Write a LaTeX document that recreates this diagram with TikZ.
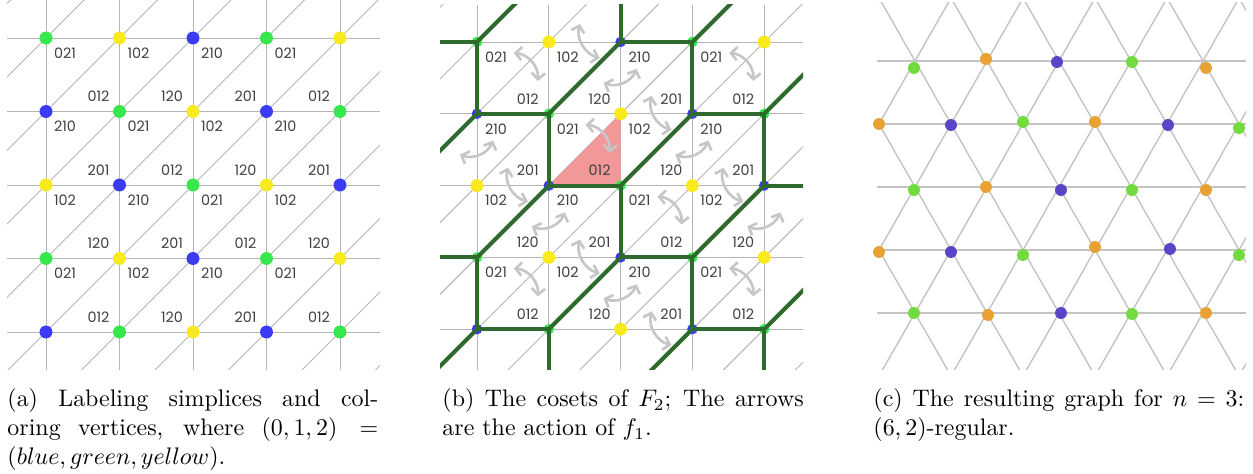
\documentclass[tikz,border=0pt]{standalone}
\usepackage{amsmath,amssymb}
\usepackage{fontspec}
\usepackage{tikz}
\usetikzlibrary{arrows.meta,positioning,calc}
\usepackage{xcolor}
\newfontfamily\simpfont{Poppins}
\definecolor{dotblue}{HTML}{3B3BF6}
\definecolor{dotgreen}{HTML}{36E84B}
\definecolor{dotyellow}{HTML}{F8EA1F}
\definecolor{cosetgreen}{HTML}{2E6A2E}
\definecolor{pinkfill}{HTML}{F29898}
\definecolor{arrowgray}{HTML}{C6C6C6}
\definecolor{gridgray}{HTML}{B5B5B5}
\definecolor{latgray}{HTML}{C4C4C4}
\definecolor{labgray}{HTML}{404040}
\definecolor{nodeblue}{HTML}{5946C6}
\definecolor{nodegreen}{HTML}{72DB3D}
\definecolor{nodeorange}{HTML}{E8A233}

\begin{document}
\begin{tikzpicture}[x=0.418pt, y=0.418pt]
\tikzset{gridline/.style={draw=gridgray, line width=0.4pt}}
\tikzset{vdot/.style={circle, inner sep=0pt, minimum size=5.4pt}}
\tikzset{simp/.style={font=\simpfont\fontsize{6}{7}\selectfont, text=labgray, inner sep=0pt}}
\tikzset{coset/.style={draw=cosetgreen, line width=1.7pt, line cap=round, line join=round}}
\tikzset{flip/.style={draw=arrowgray, line width=1.1pt, {Straight Barb[length=2.6pt,width=5.6pt]}-{Straight Barb[length=2.6pt,width=5.6pt]}}}
\tikzset{lat/.style={draw=latgray, line width=0.6pt}}
\tikzset{gnode/.style={circle, inner sep=0pt, minimum size=5pt}}
\tikzset{captext/.style={text width=155pt, align=justify, inner sep=0pt, anchor=base west}}
\useasboundingbox (0,0) rectangle (1253,-474);

% (a) labelled simplices
\begin{scope}
\clip (7,0) rectangle (380,-370);
\foreach \k in {0,...,4} {
  \draw[gridline] (7,{-38-73.5*\k}) -- (380,{-38-73.5*\k});
  \draw[gridline] ({46+73.5*\k},0) -- ({46+73.5*\k},-370);
}
\foreach \k in {-1,...,9}
  \draw[gridline] ({84+73.5*\k-400},-400) -- ({84+73.5*\k+400},400);
\end{scope}
\foreach \r in {0,...,4}
  \foreach \c in {0,...,4} {
    \pgfmathtruncatemacro\col{mod(\c-\r+7,3)}
    \ifcase\col\relax\def\fc{dotblue}\or\def\fc{dotgreen}\else\def\fc{dotyellow}\fi
    \node[vdot, fill=\fc] (a\c\r) at ({46+73.5*\c},{-38-73.5*\r}) {};
  }
\foreach \r in {0,...,3}
  \foreach \c in {0,...,3} {
    \pgfmathtruncatemacro\col{mod(\c-\r+7,3)}
    \pgfmathtruncatemacro\cn{\c+1}
    \pgfmathtruncatemacro\rn{\r+1}
    \ifcase\col\relax\def\ulab{210}\def\llab{201}\or\def\ulab{021}\def\llab{012}\else\def\ulab{102}\def\llab{120}\fi
    \node[simp] (ua\c\r) at ($(a\c\r)+(19,-15)$) {\ulab};
    \node[simp] (la\c\r) at ($(a\cn\rn)+(-21,15)$) {\llab};
  }

% (b) cosets of F_2
\foreach \r in {-2,...,6}
  \foreach \c in {-2,...,6}
    \coordinate (b\c\r) at ({477+71.8*\c},{-42-71.8*\r});
\begin{scope}
\clip (440,-5) rectangle (803,-370);
\foreach \k in {0,...,4} {
  \draw[gridline] (440,{-42-71.8*\k}) -- (803,{-42-71.8*\k});
  \draw[gridline] ({477+71.8*\k},-5) -- ({477+71.8*\k},-370);
}
\foreach \k in {-1,...,9}
  \draw[gridline] ({519+71.8*\k-400},-400) -- ({519+71.8*\k+400},400);
\fill[pinkfill] (b12) -- (b21) -- (b22) -- cycle;
\foreach \r in {0,...,4}
  \foreach \c in {0,...,4} {
    \pgfmathtruncatemacro\col{mod(\c-\r+7,3)}
    \ifcase\col\relax
      \node[vdot, fill=dotblue, minimum size=4.4pt] (v\c\r) at (b\c\r) {};
    \or
      \node[vdot, fill=dotgreen, minimum size=4.4pt] (v\c\r) at (b\c\r) {};
    \else
      \node[vdot, fill=dotyellow] (v\c\r) at (b\c\r) {};
    \fi
  }
\foreach \r in {-1,...,5}
  \foreach \c in {-1,...,5} {
    \pgfmathtruncatemacro\col{mod(\c-\r+7,3)}
    \ifnum\col=0
      \pgfmathtruncatemacro\cplus{\c+1}
      \pgfmathtruncatemacro\cminus{\c-1}
      \pgfmathtruncatemacro\rplus{\r+1}
      \pgfmathtruncatemacro\rminus{\r-1}
      \draw[coset] (b\c\rminus) -- (b\c\r) -- (b\cplus\r);
      \draw[coset] (b\c\r) -- (b\cminus\rplus);
    \fi
  }
\end{scope}
\foreach \r in {0,...,3}
  \foreach \c in {0,...,3} {
    \pgfmathtruncatemacro\col{mod(\c-\r+7,3)}
    \pgfmathtruncatemacro\cn{\c+1}
    \pgfmathtruncatemacro\rn{\r+1}
    \ifcase\col\relax\def\ulab{210}\def\llab{201}\or\def\ulab{021}\def\llab{012}\else\def\ulab{102}\def\llab{120}\fi
    \node[simp] (ub\c\r) at ($(b\c\r)+(19,-15)$) {\ulab};
    \node[simp] (lb\c\r) at ($(b\cn\rn)+(-21,15)$) {\llab};
  }
% action of f_1 across the blue--yellow edges
\foreach \r in {0,...,4}
  \foreach \c in {0,...,4} {
    \pgfmathtruncatemacro\col{mod(\c-\r+7,3)}
    \ifnum\col=2
      \ifnum\c<4
        \path (b\c\r) ++(31,18) coordinate (fs) ++(20,-34) coordinate (ft);
        \draw[flip] (fs) to[bend right=45] (ft);
      \fi
      \ifnum\r>0
        \path (b\c\r) ++(-17,31) coordinate (fs) ++(33,14) coordinate (ft);
        \draw[flip] (fs) to[bend right=45] (ft);
      \fi
      \ifnum\c>0 \ifnum\r<4
        \path (b\c\r) ++(-35,-11) coordinate (fs) ++(24,-28) coordinate (ft);
        \draw[flip] (fs) to[bend left=45] (ft);
      \fi\fi
    \fi
  }

% (c) resulting graph
\begin{scope}
\clip (877,-3) rectangle (1246,-370);
\foreach \r in {0,...,4}
  \draw[lat] (877,{-61-63*\r}) -- (1246,{-61-63*\r});
\foreach \k in {-2,...,7} {
  \draw[lat] ({879+72*\k},-124) ++(-252,-441) -- ++(504,882);
  \draw[lat] ({879+72*\k},-124) ++(252,-441) -- ++(-504,882);
}
\end{scope}
\foreach \x/\y/\fc [count=\i] in {
  914/68/nodegreen, 986/59/nodeorange, 1057/62/nodeblue, 1132/62/nodegreen, 1206/68/nodeorange,
  879/124/nodeorange, 951/125/nodeblue, 1023/122/nodegreen, 1095/122/nodeorange, 1168/125/nodeblue, 1239/128/nodegreen,
  914/190/nodegreen, 986/187/nodeorange, 1061/190/nodeblue, 1132/190/nodegreen, 1206/190/nodeorange,
  879/252/nodeorange, 951/252/nodeblue, 1023/255/nodegreen, 1095/247/nodeorange, 1170/249/nodeblue, 1239/255/nodegreen,
  914/313/nodegreen, 988/315/nodeorange, 1061/313/nodeblue, 1132/314/nodegreen, 1206/313/nodeorange}
  \node[gnode, fill=\fc] (g\i) at (\x,-\y) {};

% captions
\node[captext] (capa) at (7,-407) {(a) Labeling simplices and col-\linebreak oring vertices, where $(0,1,2) =$\linebreak $(blue, green, yellow)$.};
\node[captext, text width=151pt] (capb) at (442,-407) {(b) The cosets of $F_2$; The arrows\linebreak are the action of $f_1$.};
\node[captext] (capc) at (873,-407) {(c) The resulting graph for $n=3$:\linebreak $(6,2)$-regular.};
\end{tikzpicture}
\end{document}
